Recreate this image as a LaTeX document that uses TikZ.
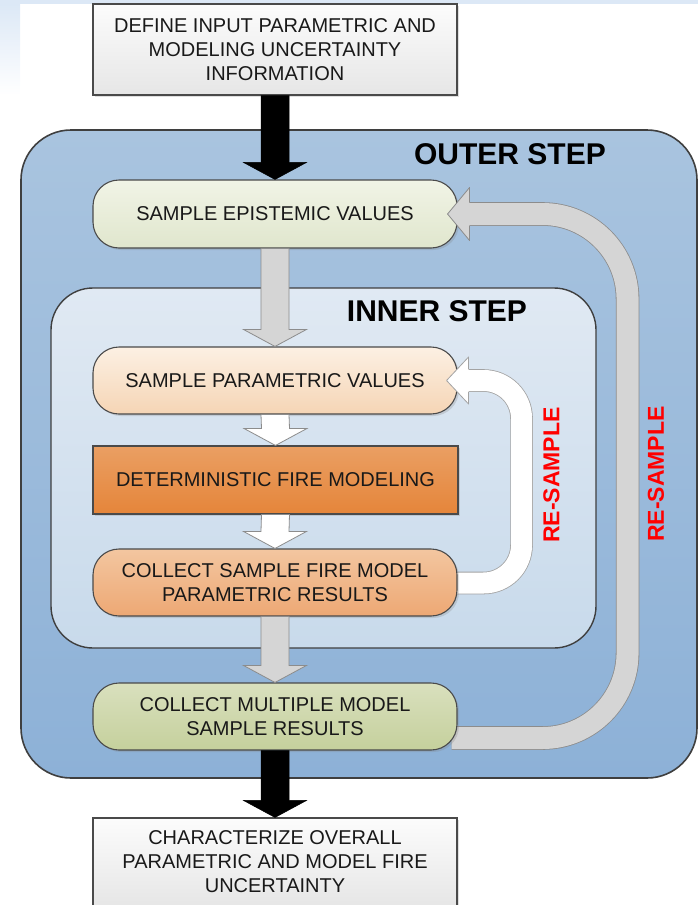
\documentclass[tikz,border=0pt]{standalone}
\usepackage{fontspec}
\setmainfont{Liberation Sans}
\usetikzlibrary{calc,shadows}

\pgfdeclarelayer{frames}
\pgfdeclarelayer{bands}
\pgfsetlayers{frames,bands,main}

% block arrow from one anchor down to another: from, to, style
\newcommand\blockarrow[3]{%
  \draw[#3] ($(#1)+(-14,0)$) -- ($(#2)+(-14,-17)$) -- ($(#2)+(-31.5,-17)$)
    -- (#2) -- ($(#2)+(31.5,-17)$) -- ($(#2)+(14,-17)$) -- ($(#1)+(14,0)$) -- cycle;}

% head of a bent band, pointing left: tip, half width, fill, border
\newcommand\bandhead[4]{%
  \fill[#3] (#1) -- ($(#1)+(22,-#2)$) -- ($(#1)+(22,#2)$) -- cycle;
  \draw[#4,line width=0.8,line join=round] ($(#1)+(22,-11.5)$) -- ($(#1)+(22,-#2)$)
    -- (#1) -- ($(#1)+(22,#2)$) -- ($(#1)+(22,11.5)$);}

\begin{document}
\begin{tikzpicture}[x=1pt,y=-1pt]
  % Colors
  \definecolor{bgblue}{HTML}{DCE8F6}
  \definecolor{outertop}{HTML}{A9C4DF}
  \definecolor{outerbot}{HTML}{8DB1D7}
  \definecolor{innertop}{HTML}{E0E9F3}
  \definecolor{innerbot}{HTML}{C8DAEB}
  \definecolor{frameline}{HTML}{3F3F3F}
  \definecolor{boxline}{HTML}{4A4A4A}
  \definecolor{bandgray}{HTML}{D5D5D5}
  \definecolor{bandline}{HTML}{8C8C8C}
  \definecolor{epitop}{HTML}{F1F4E6}
  \definecolor{epibot}{HTML}{E0E6CD}
  \definecolor{partop}{HTML}{FCF0E3}
  \definecolor{parbot}{HTML}{F5D5B5}
  \definecolor{dettop}{HTML}{EA9F63}
  \definecolor{detbot}{HTML}{E5853A}
  \definecolor{coltop}{HTML}{F3C6A0}
  \definecolor{colbot}{HTML}{EDA874}
  \definecolor{multop}{HTML}{D9E0BE}
  \definecolor{mulbot}{HTML}{C5D09C}
  \definecolor{plaintop}{HTML}{FCFCFC}
  \definecolor{plainbot}{HTML}{E6E6E6}

  % Styles
  \tikzstyle{stage}=[draw=boxline,line width=1.1,minimum width=364,minimum height=67,
    align=center,text=black!90,font=\fontsize{20}{24}\selectfont,
    drop shadow={shadow xshift=2pt,shadow yshift=-2pt,opacity=0.25}]
  \tikzstyle{rounded stage}=[stage,rounded corners=26]
  \tikzstyle{title}=[font=\fontsize{30}{32}\selectfont\bfseries]
  \tikzstyle{resample}=[font=\fontsize{23}{25}\selectfont\bfseries,text=red,rotate=90]
  \tikzstyle{black arrow}=[fill=black,draw=black,line width=0.5]
  \tikzstyle{gray arrow}=[fill=bandgray,draw=bandline,line width=0.8]
  \tikzstyle{white arrow}=[fill=white,draw=bandline,line width=0.8]
  \tikzstyle{outer band}=[draw=bandline,line width=0.8,double=bandgray,double distance=22,rounded corners=85]
  \tikzstyle{inner band}=[draw=bandline!80,line width=0.8,double=white,double distance=21,rounded corners=38]

  \useasboundingbox (0,0) rectangle (698,905);

  % The graphic
  \begin{pgfonlayer}{frames}
    \fill[bgblue] (0,0) rectangle (698,4);
    \shade[top color=bgblue,bottom color=white] (0,4) rectangle (20,95);
    \draw[line width=1.6,draw=frameline,rounded corners=50,top color=outertop,bottom color=outerbot]
      (21,130) rectangle (697,778);
    \draw[line width=1.4,draw=frameline,rounded corners=42,top color=innertop,bottom color=innerbot]
      (51,288) rectangle (596,648);
  \end{pgfonlayer}

  \node[title] (outer) at (510,154) {OUTER STEP};
  \node[title] (inner) at (437,311) {INNER STEP};

  \node[stage,minimum height=91,top color=plaintop,bottom color=plainbot] (define) at (275,49.5)
    {DEFINE INPUT PARAMETRIC AND\\MODELING UNCERTAINTY\\INFORMATION};
  \node[rounded stage,minimum height=68,top color=epitop,bottom color=epibot] (epist) at (275,214)
    {SAMPLE EPISTEMIC VALUES};
  \node[rounded stage,top color=partop,bottom color=parbot] (param) at (275,380.5)
    {SAMPLE PARAMETRIC VALUES};
  \node[stage,minimum width=365,minimum height=68,top color=dettop,bottom color=detbot] (determ) at (275.5,480)
    {DETERMINISTIC FIRE MODELING};
  \node[rounded stage,top color=coltop,bottom color=colbot] (collsample) at (275,582.5)
    {COLLECT SAMPLE FIRE MODEL\\PARAMETRIC RESULTS};
  \node[rounded stage,top color=multop,bottom color=mulbot] (collmulti) at (275,716.5)
    {COLLECT MULTIPLE MODEL\\SAMPLE RESULTS};
  \node[stage,minimum height=88,top color=plaintop,bottom color=plainbot] (charact) at (275,862)
    {CHARACTERIZE OVERALL\\PARAMETRIC AND MODEL FIRE\\UNCERTAINTY};

  % straight flow
  \blockarrow{define.south}{epist.north}{black arrow}
  \blockarrow{epist.south}{param.north}{gray arrow}
  \blockarrow{param.south}{determ.north}{white arrow}
  \blockarrow{determ.south}{collsample.north}{white arrow}
  \blockarrow{collsample.south}{collmulti.north}{gray arrow}
  \blockarrow{collmulti.south}{charact.north}{black arrow}

  % loops back
  \begin{pgfonlayer}{bands}
    \draw[outer band] ($(collmulti.east)+(-6,21.5)$) -| ($(epist.east)+(170,0)$) -- ($(epist.east)+(9,0)$);
    \draw[inner band] ($(collsample.east)+(-6,0.5)$) -| ($(param.east)+(64,0)$) -- ($(param.east)+(9,0)$);
  \end{pgfonlayer}
  \bandhead{$(epist.east)+(-10,0)$}{26.5}{bandgray}{bandline}
  \bandhead{$(param.east)+(-11,0)$}{23.5}{white}{bandline!80}

  \node[resample] (inres) at (551.5,475) {RE-SAMPLE};
  \node[resample] (outres) at (656,474) {RE-SAMPLE};
\end{tikzpicture}
\end{document}
